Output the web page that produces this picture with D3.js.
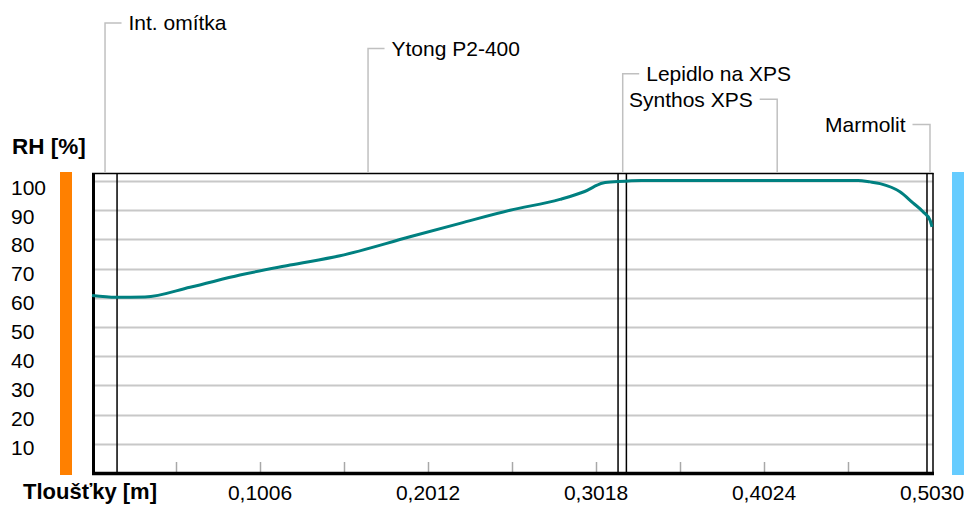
<!DOCTYPE html>
<html>
<head>
<meta charset="utf-8">
<script src="https://cdn.jsdelivr.net/npm/d3@7"></script>
<style>
  body { margin: 0; background: #fff; }
  svg { display: block; font-family: "Liberation Sans", Arial, sans-serif; }
</style>
</head>
<body>
<svg id="chart" width="969" height="506"></svg>
<script>
// ---- data ----
const layerNames = ["Int. omítka", "Ytong P2-400", "Lepidlo na XPS", "Synthos XPS", "Marmolit"];
const layerThickness = [0.015, 0.300, 0.005, 0.180, 0.003];
const labelSide = ["right", "right", "right", "left", "left"];

const rhX = [0, 0.0144, 0.0317, 0.0587, 0.0886, 0.1186, 0.1485, 0.1904, 0.2204, 0.2503, 0.2802, 0.2950, 0.3060, 0.3150, 0.3293, 0.4000, 0.4587, 0.4659, 0.4719, 0.4838, 0.4916, 0.4976, 0.5018, 0.5030];
const rhY = [60.8, 60.2, 60.3, 63.6, 67.8, 71.2, 74.4, 80.9, 85.5, 90.0, 93.7, 96.4, 99.3, 99.8, 100.2, 100.2, 100.2, 99.7, 99.1, 96.3, 92.5, 89.5, 86.6, 84.3];

const xTickValues = [0.1006, 0.2012, 0.3018, 0.4024, 0.5030];
const xTickLabels = ["0,1006", "0,2012", "0,3018", "0,4024", "0,5030"];
const xMinorTicks = [0.0503, 0.1006, 0.1509, 0.2012, 0.2515, 0.3018, 0.3521, 0.4024, 0.4527];
const yTickValues = [10, 20, 30, 40, 50, 60, 70, 80, 90, 100];

const yTitle = "RH [%]";
const xTitle = "Tloušťky [m]";

// ---- layout ----
const svg = d3.select("#chart");
const L = 92, R = 932, T = 173, B = 473;
const x = d3.scaleLinear().domain([0, 0.503]).range([L, R]);
const y = d3.scaleLinear().domain([0, 100]).range([B, 181]);
const yLab = d3.scaleLinear().domain([10, 100]).range([447.5, 187]);

// side bars
svg.append("rect").attr("x", 60).attr("y", 172).attr("width", 12).attr("height", 303).attr("fill", "#FF8000");
svg.append("rect").attr("x", 952).attr("y", 172).attr("width", 12).attr("height", 303).attr("fill", "#66CCFF");

// gridlines
svg.append("g").selectAll("line").data(yTickValues).join("line")
  .attr("x1", L).attr("x2", R + 1)
  .attr("y1", d => Math.round(y(d)) + 0.5).attr("y2", d => Math.round(y(d)) + 0.5)
  .attr("stroke", "#c8c8c8").attr("stroke-width", 2);

// minor ticks
svg.append("g").selectAll("line").data(xMinorTicks).join("line")
  .attr("x1", d => Math.round(x(d)) + 0.5).attr("x2", d => Math.round(x(d)) + 0.5)
  .attr("y1", 462).attr("y2", 472)
  .attr("stroke", "#a8a8a8").attr("stroke-width", 1.5);

// layer boundaries
const bounds = d3.cumsum(layerThickness);
svg.append("g").selectAll("line").data(bounds.slice(0, -1)).join("line")
  .attr("x1", d => x(d)).attr("x2", d => x(d))
  .attr("y1", T).attr("y2", B)
  .attr("stroke", "#000").attr("stroke-width", 1.5);

// frame
svg.append("line").attr("x1", L).attr("x2", R + 1.5).attr("y1", T + 0.5).attr("y2", T + 0.5).attr("stroke", "#000").attr("stroke-width", 1.5);
svg.append("line").attr("x1", R + 1).attr("x2", R + 1).attr("y1", T).attr("y2", B).attr("stroke", "#000").attr("stroke-width", 1.5);
svg.append("line").attr("x1", L + 1.5).attr("x2", L + 1.5).attr("y1", T).attr("y2", B + 2).attr("stroke", "#000").attr("stroke-width", 3);
svg.append("line").attr("x1", L).attr("x2", R + 2).attr("y1", B + 0.5).attr("y2", B + 0.5).attr("stroke", "#000").attr("stroke-width", 3.5);

// curve
const pts = rhX.map((d, i) => [d, rhY[i]]);
svg.append("path").datum(pts)
  .attr("fill", "none").attr("stroke", "#008080").attr("stroke-width", 3)
  .attr("stroke-linejoin", "round")
  .attr("d", d3.line().x(d => x(d[0])).y(d => y(d[1])).curve(d3.curveMonotoneX));

// layer labels with leader lines
const starts = [0, ...bounds.slice(0, -1)];
layerNames.forEach((name, i) => {
  const mid = x(starts[i] + layerThickness[i] / 2);
  const ly = 23 + i * 25.4;
  const dir = labelSide[i] === "right" ? 1 : -1;
  svg.append("path")
    .attr("d", `M${mid + 0.5},${T} V${ly} H${mid + dir * 17}`)
    .attr("fill", "none").attr("stroke", "#c0c0c0").attr("stroke-width", 1.5);
  svg.append("text")
    .attr("x", mid + dir * 24).attr("y", ly).attr("dy", "0.35em")
    .attr("text-anchor", dir === 1 ? "start" : "end")
    .attr("font-size", 21).attr("fill", "#000")
    .text(name);
});

// y tick labels
svg.append("g").selectAll("text").data(yTickValues).join("text")
  .attr("x", 11).attr("y", d => yLab(d)).attr("dy", "0.36em")
  .attr("font-size", 21).text(d => d);

// x tick labels
svg.append("g").selectAll("text").data(xTickValues).join("text")
  .attr("x", d => x(d)).attr("y", 500)
  .attr("text-anchor", "middle").attr("font-size", 21)
  .text((d, i) => xTickLabels[i]);

// titles
svg.append("text").attr("x", 12).attr("y", 154).attr("font-size", 22.5).attr("font-weight", "bold").text(yTitle);
svg.append("text").attr("x", 23).attr("y", 499).attr("font-size", 22).attr("font-weight", "bold").text(xTitle);
</script>
</body>
</html>
